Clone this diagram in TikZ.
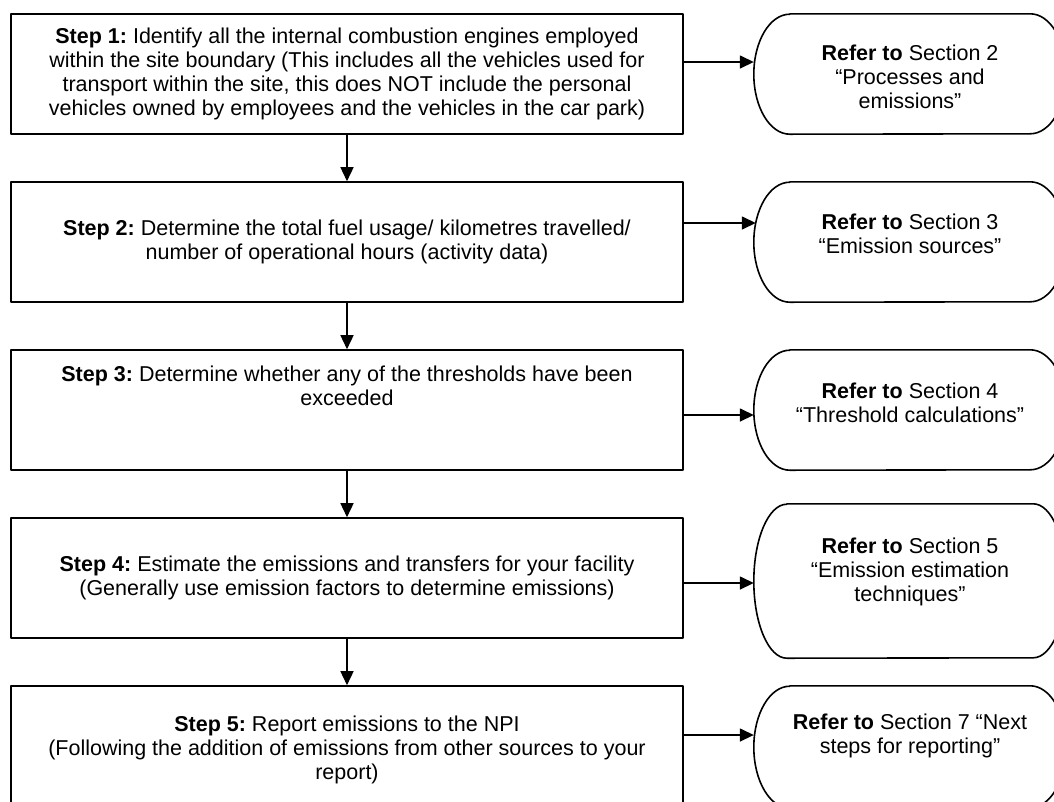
\documentclass[tikz,border=0pt]{standalone}
\usepackage{fontspec}
\setmainfont{Liberation Sans}
\usetikzlibrary{arrows.meta}
\frenchspacing
\newcommand\termline[3]{\draw[outl] ([xshift=#2]#1.north west) -- ([xshift=-#2]#1.north east) arc[start angle=90,end angle=-90,x radius=#2,y radius=#3] -- ([xshift=#2]#1.south west) arc[start angle=270,end angle=90,x radius=#2,y radius=#3] -- cycle;}
\begin{document}
\begin{tikzpicture}[x=1pt,y=1pt,
  txtfont/.style={font=\fontsize{21.5}{24}\selectfont},
  outl/.style={line width=1.6pt, line join=round},
  stepbox/.style={draw, outl, minimum width=672pt, minimum height=120pt, inner sep=0pt, align=center, txtfont},
  termbox/.style={minimum width=312pt, inner sep=0pt},
  termtxt/.style={align=center, inner sep=0pt, txtfont},
  arr/.style={line width=1.5pt, -{Triangle[length=14pt,width=13pt]}},
]
\useasboundingbox (0,0) rectangle (1054,-801);
\fill[white] (0,0) rectangle (1054,-801);
\clip (0,0) rectangle (1054,-801);

% step boxes
\node[stepbox] (s1) at (347,-74) {\textbf{Step 1:} Identify all the internal combustion engines employed\\within the site boundary (This includes all the vehicles used for\\transport within the site, this does NOT include the personal\\vehicles owned by employees and the vehicles in the car park)};
\node[stepbox] (s2) at (347,-242) {\textbf{Step 2:} Determine the total fuel usage/ kilometres travelled/\\number of operational hours (activity data)};
\node[stepbox] (s3) at (347,-410) {\textbf{Step 3:} Determine whether any of the thresholds have been\\exceeded\\\mbox{}\\\mbox{}};
\node[stepbox] (s4) at (347,-578) {\textbf{Step 4:} Estimate the emissions and transfers for your facility\\(Generally use emission factors to determine emissions)};
\node[stepbox] (s5) at (347,-746) {\mbox{}\\\textbf{Step 5:} Report emissions to the NPI\\(Following the addition of emissions from other sources to your\\report)};

% terminal shapes
\node[termbox, minimum height=120pt] (t1) at (910,-74) {};
\node[termbox, minimum height=120pt] (t2) at (910,-242) {};
\node[termbox, minimum height=120pt] (t3) at (910,-410) {};
\node[termbox, minimum height=154pt] (t4) at (910,-581) {};
\node[termbox, minimum height=122pt] (t5) at (910,-747) {};
\termline{t1}{36pt}{60pt}
\termline{t2}{36pt}{60pt}
\termline{t3}{36pt}{60pt}
\termline{t4}{33pt}{77pt}
\termline{t5}{36pt}{61pt}

\node[termtxt] (t1x) at ([yshift=-3pt]t1.center) {\textbf{Refer to} Section 2\\“Processes and\\emissions”};
\node[termtxt] (t2x) at ([yshift=8pt]t2.center) {\textbf{Refer to} Section 3\\“Emission sources”};
\node[termtxt] (t3x) at ([yshift=7pt]t3.center) {\textbf{Refer to} Section 4\\“Threshold calculations”};
\node[termtxt] (t4x) at ([yshift=9pt]t4.center) {\textbf{Refer to} Section 5\\“Emission estimation\\techniques”};
\node[termtxt] (t5x) at ([yshift=11pt]t5.center) {\textbf{Refer to} Section 7 “Next\\steps for reporting”};

% vertical connectors
\draw[arr] (s1.south) -- (s2.north);
\draw[arr] (s2.south) -- (s3.north);
\draw[arr] (s3.south) -- (s4.north);
\draw[arr] (s4.south) -- (s5.north);

% horizontal connectors
\coordinate (h1) at (0,-62);
\coordinate (h2) at (0,-223);
\coordinate (h3) at (0,-415);
\coordinate (h4) at (0,-583);
\coordinate (h5) at (0,-735);
\draw[arr] (s1.east |- h1) -- (t1.west |- h1);
\draw[arr] (s2.east |- h2) -- ([xshift=2pt]t2.west |- h2);
\draw[arr] (s3.east |- h3) -- (t3.west |- h3);
\draw[arr] (s4.east |- h4) -- (t4.west |- h4);
\draw[arr] (s5.east |- h5) -- (t5.west |- h5);
\end{tikzpicture}
\end{document}
